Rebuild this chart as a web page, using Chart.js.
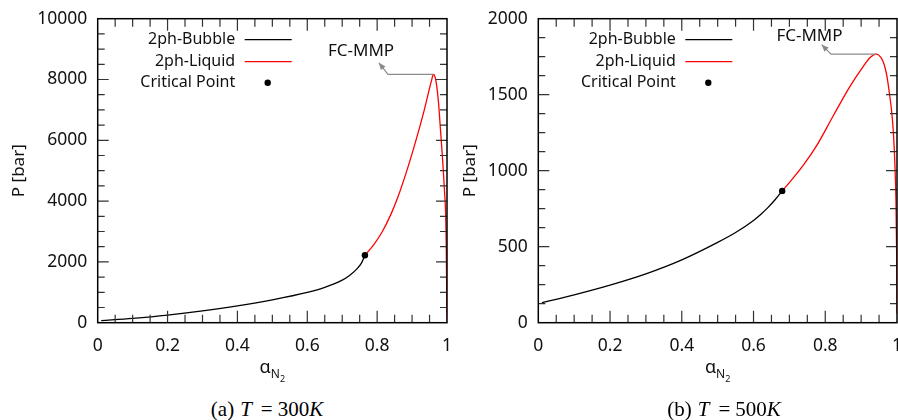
<!DOCTYPE html>
<html>
<head>
<meta charset="utf-8">
<script src="https://cdn.jsdelivr.net/npm/chart.js@4"></script>
<style>
  html, body { margin: 0; padding: 0; background: #fff; }
  #wrap { position: relative; width: 898px; height: 420px; overflow: hidden; background: #fff; }
  #wrap canvas { position: absolute; top: 0; }
  .cap {
    position: absolute; top: 397px; transform: translateX(-50%);
    font-family: "Liberation Serif", serif; font-size: 21px; line-height: 24px;
    color: #000; white-space: nowrap;
  }
  .cap i { margin-left: 6px; }
  .cap i + .eq { margin: 0 5px 0 9px; }
  .cap .k { margin-left: 0; }
</style>
</head>
<body>
<div id="wrap">
  <canvas id="c300" width="460" height="395" style="left:0"></canvas>
  <canvas id="c500" width="448" height="395" style="left:450px"></canvas>
  <div class="cap" style="left:267px">(a)<i>T</i><span class="eq">=</span>300<i class="k">K</i></div>
  <div class="cap" style="left:724px">(b)<i>T</i><span class="eq">=</span>500<i class="k">K</i></div>
</div>
<script>
// ---- shared axis ticks ----
const xTicks = [0, 0.2, 0.4, 0.6, 0.8, 1];
const yTicks300 = [0, 2000, 4000, 6000, 8000, 10000];
const yTicks500 = [0, 500, 1000, 1500, 2000];

// ---- T = 300 K ----
const bubble300X = [0.01, 0.1, 0.2, 0.3, 0.4, 0.5, 0.6, 0.65, 0.7, 0.72, 0.74, 0.755, 0.765];
const bubble300P = [66, 143, 251, 388, 553, 753, 998, 1163, 1400, 1545, 1745, 1960, 2220];
const liquid300X = [0.765, 0.79, 0.815, 0.84, 0.86, 0.88, 0.90, 0.92, 0.935, 0.948, 0.956, 0.961,
                    0.966, 0.971, 0.976, 0.981, 0.986, 0.99, 0.993, 0.996, 0.998, 0.999, 1.0, 0.0];
const liquid300P = [2220, 2560, 3000, 3580, 4150, 4820, 5560, 6360, 7000, 7620, 7980, 8170,
                    8080, 7750, 7200, 6400, 5600, 4900, 4300, 3600, 2400, 1200, 0, 0];
const crit300 = [0.765, 2220];

// ---- T = 500 K ----
const bubble500X = [0.01, 0.1, 0.2, 0.3, 0.4, 0.5, 0.55, 0.6, 0.62, 0.64, 0.66, 0.68];
const bubble500P = [131, 183, 247, 321, 413, 528, 593, 673, 712, 757, 809, 867];
const liquid500X = [0.68, 0.70, 0.74, 0.776, 0.822, 0.869, 0.906, 0.925, 0.943, 0.955, 0.964,
                    0.972, 0.98, 0.986, 0.99, 0.994, 0.997, 0.999, 1.0];
const liquid500P = [867, 922, 1040, 1165, 1360, 1555, 1686, 1745, 1767, 1745, 1700,
                    1620, 1488, 1370, 1247, 1050, 808, 450, 60];
const crit500 = [0.68, 867];

const FONT = '"Noto Sans", "Open Sans", sans-serif';

function pairs(xs, ys) { return xs.map((x, i) => ({ x, y: ys[i] })); }
function fmt(v) { return String(+Number(v).toFixed(2)); }

// Frame, inner ticks, legend, annotation and axis titles
const framePlugin = {
  id: 'frame',
  afterDatasetsDraw(chart, args, o) {
    const ctx = chart.ctx;
    const a = chart.chartArea;
    const xs = chart.scales.x, ys = chart.scales.y;
    ctx.save();

    // inner ticks on all four sides
    ctx.strokeStyle = '#333';
    ctx.lineWidth = 1.2;
    const near = (v, s) => Math.abs(v / s - Math.round(v / s)) < 1e-6;
    for (let i = 1; ; i++) {
      const v = xs.min + i * o.xMinor;
      if (v >= xs.max - 1e-9) break;
      const p = xs.getPixelForValue(v);
      const len = near(v, o.xMajor) ? 12 : 8;
      ctx.beginPath();
      ctx.moveTo(p, a.bottom); ctx.lineTo(p, a.bottom - len);
      ctx.moveTo(p, a.top); ctx.lineTo(p, a.top + len);
      ctx.stroke();
    }
    for (let i = 1; ; i++) {
      const v = ys.min + i * o.yMinor;
      if (v >= ys.max - 1e-9) break;
      const p = ys.getPixelForValue(v);
      const len = near(v, o.yMajor) ? 11 : 7;
      ctx.beginPath();
      ctx.moveTo(a.left, p); ctx.lineTo(a.left + len, p);
      ctx.moveTo(a.right, p); ctx.lineTo(a.right - len, p);
      ctx.stroke();
    }

    // plot frame
    ctx.strokeStyle = '#000';
    ctx.lineWidth = 1.5;
    ctx.strokeRect(a.left, a.top, a.right - a.left, a.bottom - a.top);

    // legend (text right-aligned, sample to its right)
    ctx.font = '16px ' + FONT;
    ctx.textAlign = 'right';
    ctx.textBaseline = 'middle';
    const rows = [21, 43, 64];
    chart.data.datasets.forEach((ds, i) => {
      const y = a.top + rows[i];
      ctx.fillStyle = '#111';
      ctx.fillText(ds.label, a.left + 137.5, y);
      if (ds.showLine) {
        ctx.strokeStyle = ds.borderColor;
        ctx.lineWidth = 1.3;
        ctx.beginPath();
        ctx.moveTo(a.left + 147, y); ctx.lineTo(a.left + 194, y);
        ctx.stroke();
      } else {
        ctx.fillStyle = ds.pointBackgroundColor;
        ctx.beginPath();
        ctx.arc(a.left + 170, y, ds.pointRadius, 0, Math.PI * 2);
        ctx.fill();
      }
    });

    // FC-MMP annotation: arrow from the maximum of the liquid branch
    const liq = chart.data.datasets[1].data;
    let peak = liq[0];
    liq.forEach(p => { if (p.y > peak.y) peak = p; });
    const px = xs.getPixelForValue(peak.x), py = ys.getPixelForValue(peak.y);
    const bx = xs.getPixelForValue(o.bendX);
    const tx = xs.getPixelForValue(o.tipX), ty = ys.getPixelForValue(o.tipY);
    ctx.strokeStyle = '#8a8a8a';
    ctx.fillStyle = '#8a8a8a';
    ctx.lineWidth = 1.2;
    ctx.beginPath();
    ctx.moveTo(px, py); ctx.lineTo(bx, py); ctx.lineTo(tx, ty);
    ctx.stroke();
    const ang = Math.atan2(ty - py, tx - bx);
    const hl = 7, hw = 3;
    ctx.beginPath();
    ctx.moveTo(tx, ty);
    ctx.lineTo(tx - hl * Math.cos(ang) + hw * Math.sin(ang), ty - hl * Math.sin(ang) - hw * Math.cos(ang));
    ctx.lineTo(tx - hl * Math.cos(ang) - hw * Math.sin(ang), ty - hl * Math.sin(ang) + hw * Math.cos(ang));
    ctx.closePath();
    ctx.fill();
    ctx.fillStyle = '#111';
    ctx.font = '17px ' + FONT;
    ctx.textAlign = 'center';
    ctx.fillText('FC-MMP', xs.getPixelForValue(o.labelX), ys.getPixelForValue(o.labelY));

    // y axis title
    ctx.save();
    ctx.translate(o.yTitleX, (a.top + a.bottom) / 2);
    ctx.rotate(-Math.PI / 2);
    ctx.font = '17px ' + FONT;
    ctx.textAlign = 'center';
    ctx.textBaseline = 'middle';
    ctx.fillStyle = '#111';
    ctx.fillText('P [bar]', 0, 0);
    ctx.restore();

    // x axis title: alpha with subscript N2
    const cx = (a.left + a.right) / 2;
    ctx.textAlign = 'left';
    ctx.textBaseline = 'alphabetic';
    ctx.fillStyle = '#111';
    ctx.font = '18px ' + FONT;
    const wA = ctx.measureText('α').width;
    ctx.font = '12px ' + FONT;
    const wN = ctx.measureText('N').width;
    ctx.font = '9px ' + FONT;
    const w2 = ctx.measureText('2').width;
    let x0 = cx - (wA + wN + w2) / 2;
    const base = o.xTitleY;
    ctx.font = '18px ' + FONT;
    ctx.fillText('α', x0, base);
    ctx.font = '12px ' + FONT;
    ctx.fillText('N', x0 + wA, base + 5);
    ctx.font = '9px ' + FONT;
    ctx.fillText('2', x0 + wA + wN, base + 9);

    ctx.restore();
  }
};

function makeChart(id, cfg) {
  return new Chart(document.getElementById(id), {
    type: 'scatter',
    data: {
      datasets: [
        { label: '2ph-Bubble', data: pairs(cfg.bubbleX, cfg.bubbleP), showLine: true,
          borderColor: '#000', borderWidth: 1.3, pointRadius: 0, order: 2,
          cubicInterpolationMode: 'monotone' },
        { label: '2ph-Liquid', data: pairs(cfg.liquidX, cfg.liquidP), showLine: true,
          borderColor: '#ff0000', borderWidth: 1.3, pointRadius: 0, order: 3,
          cubicInterpolationMode: 'monotone' },
        { label: 'Critical Point', data: [{ x: cfg.crit[0], y: cfg.crit[1] }], showLine: false,
          pointRadius: 3.2, pointBackgroundColor: '#000', pointBorderWidth: 0, order: 1 }
      ]
    },
    options: {
      responsive: false,
      animation: false,
      events: [],
      layout: { autoPadding: false, padding: { top: 18.7, right: cfg.padRight, bottom: 0, left: 0 } },
      plugins: {
        legend: { display: false },
        tooltip: { enabled: false },
        frame: cfg.frame
      },
      scales: {
        x: {
          type: 'linear', min: 0, max: 1,
          afterBuildTicks(s) { s.ticks = xTicks.map(v => ({ value: v })); },
          ticks: { padding: 13, maxRotation: 0, autoSkip: false, color: '#111',
                   font: { family: FONT, size: 17.5 }, callback: v => fmt(v) },
          grid: { display: false, drawTicks: false },
          border: { display: false },
          afterFit(s) { s.height = 395 - 322.7; s.paddingLeft = 0; s.paddingRight = 0; }
        },
        y: {
          type: 'linear', min: cfg.yTicks[0], max: cfg.yTicks[cfg.yTicks.length - 1],
          afterBuildTicks(s) { s.ticks = cfg.yTicks.map(v => ({ value: v })); },
          ticks: { padding: 10.5, autoSkip: false, color: '#111',
                   font: { family: FONT, size: 17.5 }, callback: v => String(v) },
          grid: { display: false, drawTicks: false },
          border: { display: false },
          afterFit(s) { s.width = cfg.yWidth; s.paddingTop = 0; s.paddingBottom = 0; }
        }
      }
    },
    plugins: [framePlugin]
  });
}

makeChart('c300', {
  bubbleX: bubble300X, bubbleP: bubble300P,
  liquidX: liquid300X, liquidP: liquid300P,
  crit: crit300, yTicks: yTicks300,
  yWidth: 97.7, padRight: 13,
  frame: { xMinor: 0.05, xMajor: 0.2, yMinor: 500, yMajor: 2000,
           bendX: 0.831, tipX: 0.805, tipY: 8551, labelX: 0.754, labelY: 8930,
           yTitleX: 19, xTitleY: 373 }
});

makeChart('c500', {
  bubbleX: bubble500X, bubbleP: bubble500P,
  liquidX: liquid500X, liquidP: liquid500P,
  crit: crit500, yTicks: yTicks500,
  yWidth: 88.3, padRight: 1,
  frame: { xMinor: 0.05, xMajor: 0.2, yMinor: 125, yMajor: 500,
           bendX: 0.816, tipX: 0.790, tipY: 1829, labelX: 0.756, labelY: 1885,
           yTitleX: 20, xTitleY: 373 }
});
</script>
</body>
</html>
